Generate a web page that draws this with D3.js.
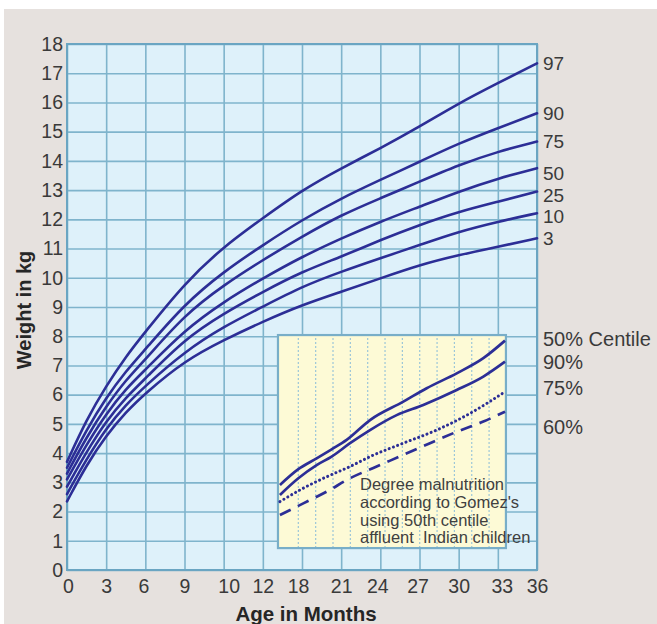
<!DOCTYPE html>
<html>
<head>
<meta charset="utf-8">
<script src="https://cdn.jsdelivr.net/npm/d3@7/dist/d3.min.js"></script>
<style>
  html, body { margin: 0; padding: 0; background: #ffffff; }
  svg { display: block; }
</style>
</head>
<body>
<svg id="chart" width="657" height="624"></svg>
<script>
// ---------------- DATA ----------------
const months = [0, 1.5, 3, 4.5, 6, 9, 12, 15, 18, 21, 24, 27, 30, 33, 36];
const centileNames = ["97", "90", "75", "50", "25", "10", "3"];
const p97 = [3.7, 5.15, 6.3, 7.3, 8.15, 9.81, 11.07, 12.04, 13.0, 13.75, 14.43, 15.17, 15.97, 16.66, 17.34];
const p90 = [3.5, 4.8, 5.9, 6.8, 7.55, 9.1, 10.21, 11.12, 11.98, 12.72, 13.35, 13.97, 14.6, 15.12, 15.63];
const p75 = [3.3, 4.55, 5.6, 6.5, 7.2, 8.73, 9.75, 10.61, 11.41, 12.15, 12.72, 13.29, 13.86, 14.32, 14.66];
const p50 = [3.1, 4.3, 5.35, 6.2, 6.85, 8.21, 9.18, 9.98, 10.72, 11.35, 11.92, 12.43, 12.95, 13.4, 13.75];
const p25 = [2.85, 4.05, 5.1, 5.9, 6.55, 7.9, 8.78, 9.52, 10.21, 10.72, 11.29, 11.81, 12.26, 12.6, 12.95];
const p10 = [2.6, 3.8, 4.85, 5.65, 6.3, 7.47, 8.33, 9.01, 9.7, 10.21, 10.67, 11.12, 11.58, 11.92, 12.21];
const p3  = [2.35, 3.6, 4.6, 5.4, 6.05, 7.16, 7.87, 8.5, 9.07, 9.52, 9.98, 10.44, 10.78, 11.06, 11.35];

const xTickValues = [0, 3, 6, 9, 12, 15, 18, 21, 24, 27, 30, 33, 36];
const xTickLabels = ["0", "3", "6", "9", "10", "12", "18", "21", "24", "27", "30", "33", "36"];
const yTickValues = [0,1,2,3,4,5,6,7,8,9,10,11,12,13,14,15,16,17,18];

// inset (Gomez grades) — age in months, weight in kg on the main scales
const insetNames = ["50% Centile", "90%", "75%", "60%"];
const insetAge50 = [16.31, 17.72, 19.12, 20.27, 21.42, 23.21, 25.76, 27.55, 29.85, 31.89, 33.55];
const insetW50   = [2.91, 3.45, 3.82, 4.13, 4.45, 5.13, 5.76, 6.22, 6.73, 7.25, 7.85];
const insetAge90 = [16.31, 17.72, 19.12, 20.27, 21.68, 23.21, 25.25, 27.29, 29.85, 31.89, 33.55];
const insetW90   = [2.57, 3.14, 3.59, 3.88, 4.34, 4.79, 5.30, 5.65, 6.16, 6.62, 7.13];
const insetAge75 = [16.31, 18.1, 19.89, 21.68, 23.21, 25.76, 28.32, 30.87, 33.55];
const insetW75   = [2.34, 2.80, 3.19, 3.54, 3.88, 4.34, 4.79, 5.36, 6.10];
const insetAge60 = [16.31, 18.1, 19.89, 21.68, 23.72, 25.76, 27.8, 29.85, 31.89, 33.55];
const insetW60   = [1.88, 2.28, 2.68, 3.14, 3.54, 3.94, 4.34, 4.73, 5.08, 5.42];
const insetNote = ["Degree malnutrition", "according to Gomez's", "using 50th centile", "affluent\u00a0 Indian children"];

// ---------------- LAYOUT ----------------
const svg = d3.select("#chart");
const W = 657, H = 624;
const plot = { left: 67, right: 537, top: 44, bottom: 570 };
const x = d3.scaleLinear().domain([0, 36]).range([plot.left, plot.right]);
const y = d3.scaleLinear().domain([0, 18]).range([plot.bottom, plot.top]);

const lineColor = "#2c2e96";
const gridColor = "#7fb4cc";
const textColor = "#3a3a3a";
const font = "'Liberation Sans', Arial, Helvetica, sans-serif";

// page background
svg.append("rect").attr("x", 4).attr("y", 9).attr("width", W - 4).attr("height", H - 9).attr("fill", "#e6e1de");

// plot background
svg.append("rect")
  .attr("x", plot.left).attr("y", plot.top)
  .attr("width", plot.right - plot.left).attr("height", plot.bottom - plot.top)
  .attr("fill", "#def1fa");

// grid via axes
const gx = svg.append("g").attr("transform", `translate(0,${plot.bottom})`)
  .call(d3.axisBottom(x).tickValues(xTickValues).tickSize(-(plot.bottom - plot.top)).tickFormat(""));
const gy = svg.append("g").attr("transform", `translate(${plot.left},0)`)
  .call(d3.axisLeft(y).tickValues(yTickValues).tickSize(-(plot.right - plot.left)).tickFormat(""));
[gx, gy].forEach(g => {
  g.select(".domain").remove();
  g.selectAll(".tick line").attr("stroke", gridColor).attr("stroke-width", 1.6);
});

// plot frame
svg.append("rect")
  .attr("x", plot.left).attr("y", plot.top)
  .attr("width", plot.right - plot.left).attr("height", plot.bottom - plot.top)
  .attr("fill", "none").attr("stroke", "#6aa5c2").attr("stroke-width", 2);

// centile curves
const series = [p97, p90, p75, p50, p25, p10, p3];
const line = d3.line().x(d => x(d[0])).y(d => y(d[1])).curve(d3.curveBasis);
series.forEach(vals => {
  svg.append("path")
    .attr("d", line(months.map((m, i) => [m, vals[i]])))
    .attr("fill", "none").attr("stroke", lineColor).attr("stroke-width", 2.6)
    .attr("stroke-linecap", "round");
});

// centile labels at right (slightly spread so they do not collide)
const centileNudge = [0, 0, -0.5, 5.8, 3.9, 3.8, 0.2];
series.forEach((vals, i) => {
  svg.append("text")
    .attr("x", plot.right + 6)
    .attr("y", y(vals[vals.length - 1]) + centileNudge[i])
    .attr("dominant-baseline", "central")
    .attr("font-family", font).attr("font-size", 19).attr("fill", textColor)
    .text(centileNames[i]);
});

// y tick labels
const yAx = svg.append("g").attr("transform", `translate(${plot.left},0)`)
  .call(d3.axisLeft(y).tickValues(yTickValues).tickSize(0).tickPadding(4).tickFormat(d3.format("d")));
yAx.select(".domain").remove();
yAx.selectAll("text").attr("font-family", font).attr("font-size", 19.5).attr("fill", textColor);

// x tick labels
const xNudge = [1, 0, -2, 0, 5, 0, -4, 0, -3, -2, 0, 4, 0];
const xAx = svg.append("g").attr("transform", `translate(0,${plot.bottom})`)
  .call(d3.axisBottom(x).tickValues(xTickValues).tickSize(0).tickPadding(9)
    .tickFormat((d, i) => xTickLabels[i]));
xAx.select(".domain").remove();
xAx.selectAll("text").attr("font-family", font).attr("font-size", 19.5).attr("fill", textColor)
  .attr("dx", (d, i) => xNudge[i]);

// axis titles
svg.append("text")
  .attr("x", 306).attr("y", 621).attr("text-anchor", "middle")
  .attr("font-family", font).attr("font-size", 20.5).attr("font-weight", "bold").attr("fill", "#262626")
  .text("Age in Months");
svg.append("text")
  .attr("transform", "translate(31,310) rotate(-90)").attr("text-anchor", "middle")
  .attr("font-family", font).attr("font-size", 20).attr("font-weight", "bold").attr("fill", "#262626")
  .text("Weight in kg");

// ---------------- INSET ----------------
const inset = { x0: x(16.16), x1: x(33.62), y0: y(8.04), y1: y(0.75) };
svg.append("rect")
  .attr("x", inset.x0).attr("y", inset.y0)
  .attr("width", inset.x1 - inset.x0).attr("height", inset.y1 - inset.y0)
  .attr("fill", "#fdfad6");
const xIn = d3.scaleLinear().domain([0, 13]).range([inset.x0 + 2.5, inset.x1]);
const insetGrid = svg.append("g").attr("transform", `translate(0,${inset.y1})`)
  .call(d3.axisBottom(xIn).tickValues(d3.range(1, 13)).tickSize(-(inset.y1 - inset.y0)).tickFormat(""));
insetGrid.select(".domain").remove();
insetGrid.selectAll(".tick line").attr("stroke", "#9cc6d8").attr("stroke-width", 1.2).attr("stroke-dasharray", "2,2");
svg.append("rect")
  .attr("x", inset.x0).attr("y", inset.y0)
  .attr("width", inset.x1 - inset.x0).attr("height", inset.y1 - inset.y0)
  .attr("fill", "none").attr("stroke", "#78aec8").attr("stroke-width", 2.2);

const insetSeries = [
  { a: insetAge50, w: insetW50, kind: "solid" },
  { a: insetAge90, w: insetW90, kind: "solid" },
  { a: insetAge75, w: insetW75, kind: "dot" },
  { a: insetAge60, w: insetW60, kind: "dash" }
];
const insetLine = d3.line().x(d => x(d[0])).y(d => y(d[1])).curve(d3.curveMonotoneX);
insetSeries.forEach(s => {
  const p = svg.append("path")
    .attr("d", insetLine(s.a.map((m, i) => [m, s.w[i]])))
    .attr("fill", "none").attr("stroke", lineColor).attr("stroke-width", 2.7);
  if (s.kind === "dot") p.attr("stroke-dasharray", "0.1,4.4").attr("stroke-linecap", "round").attr("stroke-width", 3);
  if (s.kind === "dash") p.attr("stroke-dasharray", "12,8");
});

// inset labels at right
const insetLabelNudge = [-2, 0, -4, 15];
insetSeries.forEach((s, i) => {
  svg.append("text")
    .attr("x", plot.right + 6)
    .attr("y", y(s.w[s.w.length - 1]) + insetLabelNudge[i])
    .attr("dominant-baseline", "central")
    .attr("font-family", font).attr("font-size", 20).attr("fill", textColor)
    .text(insetNames[i]);
});

// inset note
const note = svg.append("text")
  .attr("font-family", font).attr("font-size", 16.5).attr("fill", "#404040");
insetNote.forEach((t, i) => {
  note.append("tspan").attr("x", 360).attr("y", 490 + i * 17.8).text(t);
});
</script>
</body>
</html>
